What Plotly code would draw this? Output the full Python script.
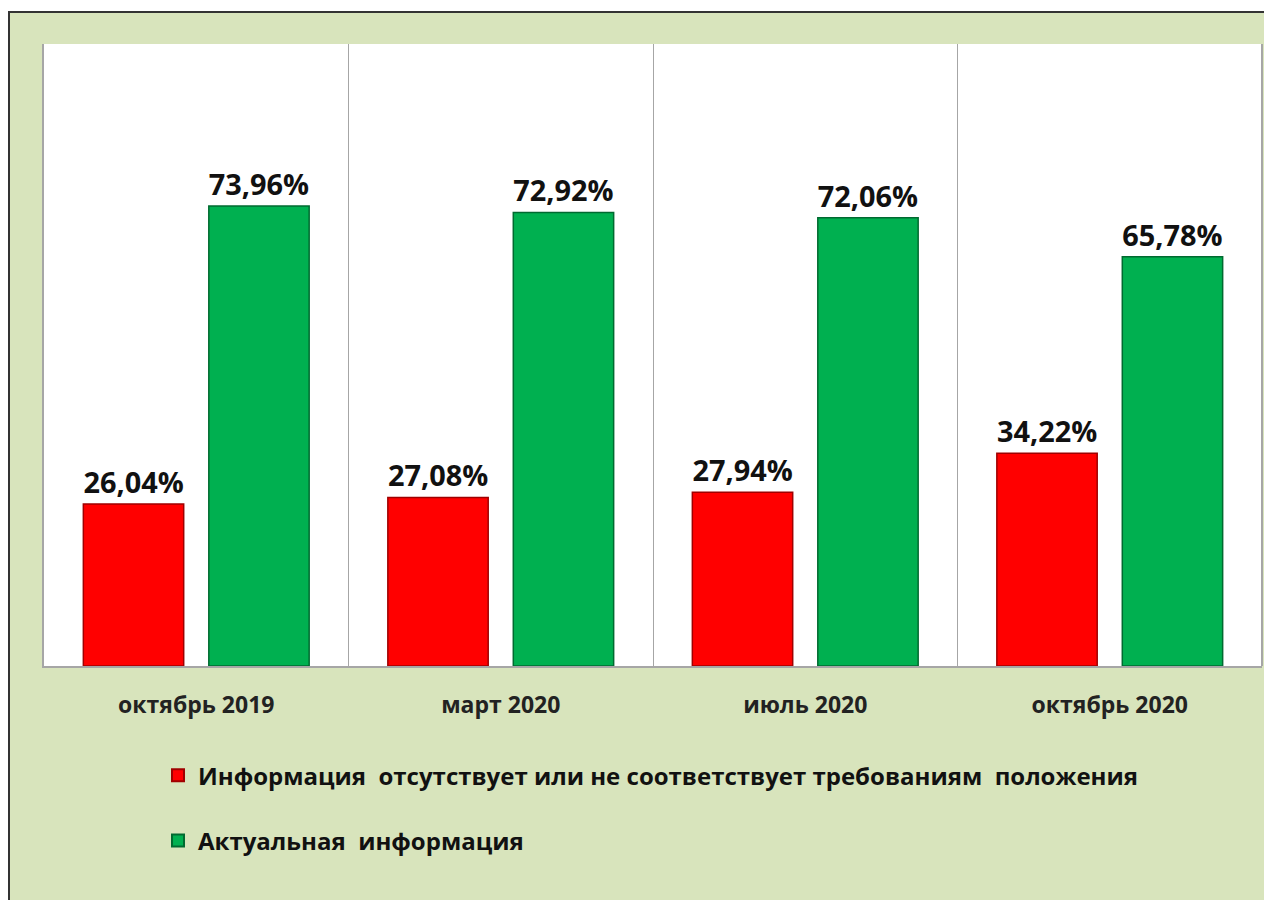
import plotly.graph_objects as go

categories = ["октябрь 2019", "март 2020", "июль 2020", "октябрь 2020"]
missing_values = [26.04, 27.08, 27.94, 34.22]
actual_values = [73.96, 72.92, 72.06, 65.78]
series_names = [
    "Информация  отсутствует или не соответствует требованиям  положения",
    "Актуальная  информация",
]

FONT = "'Open Sans', 'Noto Sans', sans-serif"
BG = "#D8E4BC"

W, H = 1264, 892
L, R, T, B = 36, 10, 36, 234
PW, PH = W - L - R, H - T - B

fig = go.Figure()
fig.add_trace(go.Bar(
    x=categories, y=missing_values, name=series_names[0],
    marker=dict(color="#FF0000", line=dict(color="#A00000", width=1.5)),
    texttemplate="%{y:.2f}%", textposition="outside",
    textfont=dict(family=FONT, size=32, color="#111111", weight="bold"),
    legendgroup="a", cliponaxis=False,
))
fig.add_trace(go.Bar(
    x=categories, y=actual_values, name=series_names[1],
    marker=dict(color="#00B050", line=dict(color="#006A30", width=1.5)),
    texttemplate="%{y:.2f}%", textposition="outside",
    textfont=dict(family=FONT, size=32, color="#111111", weight="bold"),
    legendgroup="b", cliponaxis=False,
))

fig.update_layout(
    width=W, height=H,
    margin=dict(l=L, r=R, t=T, b=B),
    paper_bgcolor=BG,
    plot_bgcolor="white",
    separators=", ",
    barmode="group",
    bargap=0.176,
    bargroupgap=0.2,
    font=dict(family=FONT, color="#222222"),
    showlegend=True,
    legend=dict(
        x=0.0936, y=-0.140, xanchor="left", yanchor="top",
        orientation="v", traceorder="grouped", tracegroupgap=31,
        bgcolor="rgba(0,0,0,0)",
        font=dict(family=FONT, size=24, color="#111111", weight="bold"),
        itemsizing="constant",
    ),
    xaxis=dict(
        showgrid=True, gridcolor="#A6A6A6", gridwidth=1,
        tickson="boundaries", ticks="", showline=True,
        linecolor="#A6A6A6", linewidth=2,
        tickfont=dict(family=FONT, size=23, color="#222222", weight="bold"),
        ticklabelstandoff=17,
    ),
    yaxis=dict(
        range=[0, 100], showgrid=False, showticklabels=False, ticks="",
        showline=True, linecolor="#A6A6A6", linewidth=2, zeroline=False,
    ),
    shapes=[
        # white strip outside the outer frame (top)
        dict(type="rect", xref="paper", yref="paper",
             x0=-L / PW, x1=(W - L) / PW, y0=1 + (T - 4) / PH, y1=1 + T / PH,
             fillcolor="white", line=dict(width=0), layer="below"),
        # outer frame lines
        dict(type="line", xref="paper", yref="paper",
             x0=-L / PW, x1=(W - L) / PW, y0=1 + (T - 4) / PH, y1=1 + (T - 4) / PH,
             line=dict(color="#333333", width=2)),
        dict(type="line", xref="paper", yref="paper",
             x0=-L / PW + 1 / PW, x1=-L / PW + 1 / PW, y0=-B / PH, y1=1 + (T - 4) / PH,
             line=dict(color="#333333", width=2)),
        # right border of plot area
        dict(type="line", xref="paper", yref="paper",
             x0=1, x1=1, y0=0, y1=1,
             line=dict(color="#A6A6A6", width=2)),
    ],
)

fig.write_html("out.html")
